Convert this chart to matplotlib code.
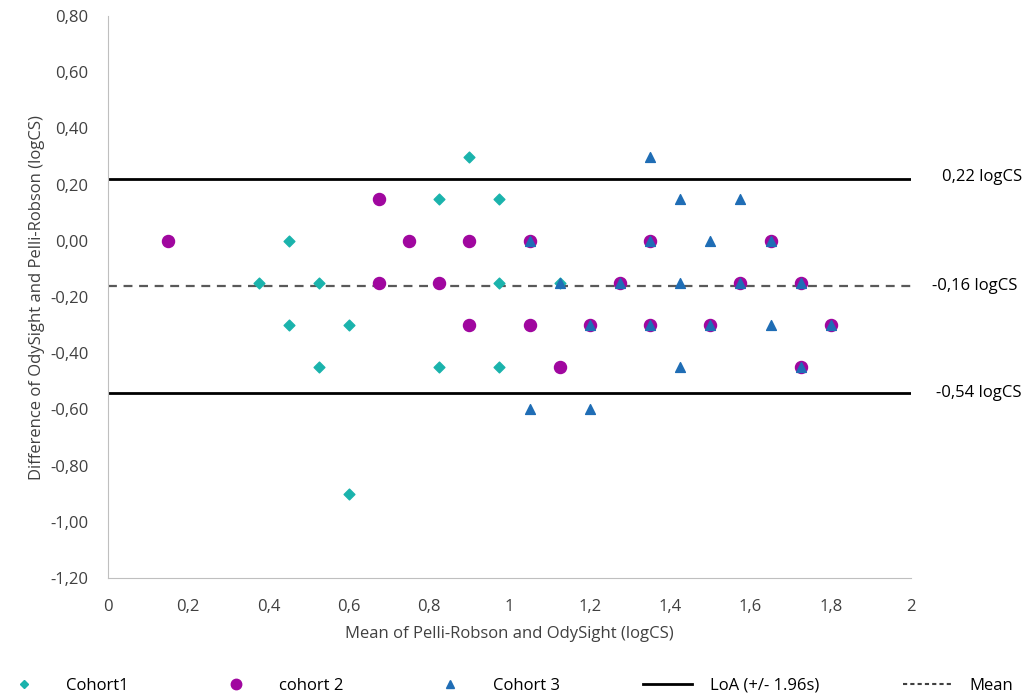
import matplotlib
matplotlib.use('Agg')
import matplotlib.pyplot as plt
from matplotlib.lines import Line2D
from matplotlib.ticker import FuncFormatter

plt.rcParams['font.family'] = ['Open Sans', 'DejaVu Sans']

# Cohort 1 (cyan diamonds)
c1_x = [0.375, 0.45, 0.45, 0.525, 0.525, 0.6, 0.6, 0.825, 0.825, 0.9, 0.975, 0.975, 0.975, 1.125]
c1_y = [-0.15, 0.0, -0.30, -0.15, -0.45, -0.30, -0.90, 0.15, -0.45, 0.30, 0.15, -0.15, -0.45, -0.15]

# cohort 2 (purple circles)
c2_x = [0.15, 0.675, 0.675, 0.75, 0.825, 0.9, 0.9, 1.05, 1.05, 1.125, 1.2, 1.275, 1.35, 1.35,
        1.5, 1.575, 1.65, 1.725, 1.725, 1.8]
c2_y = [0.0, 0.15, -0.15, 0.0, -0.15, 0.0, -0.30, 0.0, -0.30, -0.45, -0.30, -0.15, 0.0, -0.30,
        -0.30, -0.15, 0.0, -0.15, -0.45, -0.30]

# Cohort 3 (blue triangles)
c3_x = [1.05, 1.05, 1.125, 1.2, 1.2, 1.275, 1.35, 1.35, 1.35, 1.425, 1.425, 1.425, 1.5, 1.5,
        1.575, 1.575, 1.65, 1.65, 1.725, 1.725, 1.8]
c3_y = [0.0, -0.60, -0.15, -0.30, -0.60, -0.15, 0.30, 0.0, -0.30, 0.15, -0.15, -0.45, 0.0, -0.30,
        0.15, -0.15, 0.0, -0.30, -0.15, -0.45, -0.30]

loa_upper = 0.22
loa_lower = -0.54
mean_diff = -0.16

col1 = '#1ab3ac'
col2 = '#a0079f'
col3 = '#1f6db5'

fig = plt.figure(figsize=(10.33, 6.99), dpi=100)
ax = fig.add_axes([0.1045, 0.173, 0.7775, 0.804])

ax.axhline(loa_upper, color='black', lw=2, zorder=1)
ax.axhline(loa_lower, color='black', lw=2, zorder=1)
ax.axhline(mean_diff, color='#595959', lw=1.6, ls=(0, (4, 3)), zorder=1)

ax.scatter(c1_x, c1_y, marker='D', s=30, color=col1, zorder=3)
ax.scatter(c2_x, c2_y, marker='o', s=75, color=col2, zorder=4)
ax.scatter(c3_x, c3_y, marker='^', s=50, color=col3, zorder=5)

ax.set_xlim(0, 2)
ax.set_ylim(-1.2, 0.8)
ax.set_xticks([0, 0.2, 0.4, 0.6, 0.8, 1.0, 1.2, 1.4, 1.6, 1.8, 2.0])
ax.set_yticks([-1.2, -1.0, -0.8, -0.6, -0.4, -0.2, 0, 0.2, 0.4, 0.6, 0.8])

def xfmt(v, pos):
    s = ('%.1f' % v).rstrip('0').rstrip('.')
    return s.replace('.', ',')

def yfmt(v, pos):
    return ('%.2f' % v).replace('.', ',').replace('-0,00', '0,00')

ax.xaxis.set_major_formatter(FuncFormatter(xfmt))
ax.yaxis.set_major_formatter(FuncFormatter(yfmt))
ax.tick_params(length=0, labelsize=12, labelcolor='#404040')
ax.tick_params(axis='x', pad=15)
ax.tick_params(axis='y', pad=14)

for side in ['top', 'right']:
    ax.spines[side].set_visible(False)
for side in ['left', 'bottom']:
    ax.spines[side].set_color('#bfbfbf')

ax.set_xlabel('Mean of Pelli-Robson and OdySight (logCS)', fontsize=12, color='#404040', labelpad=8)
ax.set_ylabel('Difference of OdySight and Pelli-Robson (logCS)', fontsize=12, color='#404040', labelpad=4)

fig.text(0.989, 1 - 177 / 699, '0,22 logCS', ha='right', va='center', fontsize=12)
fig.text(0.985, 1 - 286 / 699, '-0,16 logCS', ha='right', va='center', fontsize=12)
fig.text(0.989, 1 - 393 / 699, '-0,54 logCS', ha='right', va='center', fontsize=12)

handles = [
    Line2D([], [], ls='none', marker='D', ms=4.5, color=col1),
    Line2D([], [], ls='none', marker='o', ms=7.5, color=col2),
    Line2D([], [], ls='none', marker='^', ms=6, color=col3),
    Line2D([], [], color='black', lw=2),
    Line2D([], [], color='#404040', lw=1.5, ls=(0, (2, 1.5))),
]
labels = ['Cohort1', 'cohort 2', 'Cohort 3', 'LoA (+/- 1.96s)', 'Mean']
fig.legend(handles, labels, loc='center', bbox_to_anchor=(0.49, 1 - 686 / 699), ncol=5,
           frameon=False, fontsize=12, columnspacing=5.0, handlelength=2.9, handletextpad=1.1)

fig.savefig('out.png', dpi=100)
